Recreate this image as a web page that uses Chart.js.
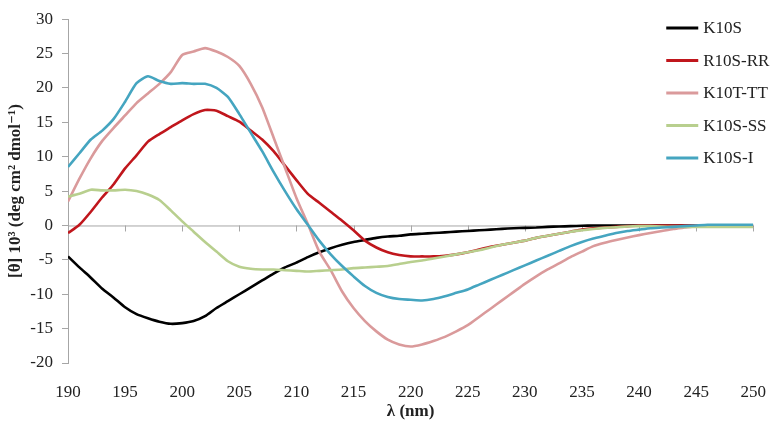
<!DOCTYPE html>
<html lang="en">
<head>
    <meta charset="UTF-8">
    <title>CD spectra</title>
    <script src="https://cdn.jsdelivr.net/npm/chart.js"></script>
    <style>
        html, body { margin: 0; padding: 0; background: #fff; }
        #wrap { width: 777px; height: 426px; }
    </style>
</head>
<body>
    <div id="wrap"><canvas id="cdChart"></canvas></div>

    <script>
        // wavelength (nm), one point per nm
        const wavelengths = [];
        for (let w = 190; w <= 250; w++) wavelengths.push(w);

        const seriesNames = ["K10S", "R10S-RR", "K10T-TT", "K10S-SS", "K10S-I"];
        const seriesColors = ["#000000", "#c0161c", "#da9a9b", "#b8cf8e", "#45a5c0"];

        const k10s = [-4.5, -6.1, -7.6, -9.2, -10.5, -11.9, -12.9, -13.5, -14.0, -14.3,
            -14.2, -13.9, -13.2, -12.0, -11.0, -10.0, -9.0, -8.0, -7.0, -6.1,
            -5.4, -4.6, -3.9, -3.3, -2.8, -2.4, -2.1, -1.8, -1.6, -1.5,
            -1.3, -1.2, -1.1, -1.0, -0.9, -0.8, -0.7, -0.6, -0.5, -0.4,
            -0.35, -0.3, -0.2, -0.15, -0.1, -0.05, 0, 0, 0, 0,
            0, 0, 0, 0, 0, 0, 0, 0, 0, 0, 0];
        const r10sRR = [-1.1, 0.1, 2.0, 4.1, 6.0, 8.3, 10.2, 12.2, 13.3, 14.3,
            15.3, 16.2, 16.8, 16.7, 15.9, 15.1, 13.8, 12.5, 10.8, 8.7,
            6.6, 4.6, 3.3, 2.0, 0.7, -0.7, -2.2, -3.2, -3.9, -4.3,
            -4.5, -4.5, -4.5, -4.4, -4.2, -3.9, -3.5, -3.1, -2.8, -2.5,
            -2.2, -1.8, -1.5, -1.2, -0.9, -0.6, -0.4, -0.3, -0.2, -0.1,
            0, 0, 0, 0, 0, 0, 0, 0, 0, 0, 0];
        const k10tTT = [3.5, 6.8, 9.8, 12.3, 14.2, 16.0, 17.8, 19.2, 20.6, 22.3,
            24.8, 25.3, 25.8, 25.3, 24.5, 23.2, 20.6, 17.2, 12.8, 8.4,
            4.0, 0.2, -3.8, -6.5, -9.6, -12.0, -13.9, -15.4, -16.6, -17.3,
            -17.6, -17.3, -16.8, -16.2, -15.4, -14.5, -13.3, -12.1, -10.9, -9.7,
            -8.5, -7.4, -6.4, -5.5, -4.6, -3.8, -3.0, -2.5, -2.1, -1.75,
            -1.4, -1.1, -0.8, -0.5, -0.3, -0.1, 0, 0, 0, 0, 0];
        const k10sSS = [4.2, 4.6, 5.2, 5.1, 5.1, 5.2, 5.0, 4.5, 3.7, 2.2,
            0.6, -0.9, -2.4, -3.8, -5.2, -6.0, -6.3, -6.4, -6.4, -6.5,
            -6.6, -6.7, -6.6, -6.5, -6.4, -6.2, -6.1, -6.0, -5.9, -5.6,
            -5.3, -5.1, -4.8, -4.5, -4.2, -3.9, -3.6, -3.2, -2.8, -2.5,
            -2.2, -1.8, -1.5, -1.2, -0.9, -0.7, -0.5, -0.35, -0.25, -0.15,
            -0.1, -0.1, -0.15, -0.2, -0.2, -0.2, -0.2, -0.2, -0.2, -0.2, -0.2];
        const k10sI = [8.5, 10.5, 12.5, 13.8, 15.5, 18.0, 20.7, 21.7, 21.0, 20.6,
            20.7, 20.6, 20.6, 20.0, 18.7, 16.2, 13.5, 10.8, 7.8, 5.0,
            2.4, 0.1, -2.2, -4.2, -5.9, -7.4, -8.8, -9.8, -10.4, -10.7,
            -10.8, -10.9, -10.7, -10.3, -9.8, -9.3, -8.6, -7.9, -7.2, -6.5,
            -5.8, -5.1, -4.4, -3.7, -3.0, -2.4, -1.9, -1.5, -1.1, -0.8,
            -0.6, -0.4, -0.3, -0.2, -0.1, 0.0, 0.1, 0.1, 0.1, 0.1, 0.1];

        const allSeries = [k10s, r10sRR, k10tTT, k10sSS, k10sI];

        const serif = "'Liberation Serif', 'DejaVu Serif', serif";
        const axisGray = "#a6a6a6";

        // zero line with its tick marks, like the crossing axis in the original
        const zeroAxis = {
            id: "zeroAxis",
            beforeDatasetsDraw(chart) {
                const { ctx, chartArea, scales } = chart;
                const y0 = scales.y.getPixelForValue(0);
                ctx.save();
                ctx.strokeStyle = axisGray;
                ctx.lineWidth = 1;
                ctx.beginPath();
                ctx.moveTo(chartArea.left, y0 + 0.5);
                ctx.lineTo(chartArea.right, y0 + 0.5);
                scales.x.ticks.forEach(t => {
                    const x = Math.round(scales.x.getPixelForValue(t.value)) + 0.5;
                    ctx.moveTo(x, y0);
                    ctx.lineTo(x, y0 + 6);
                });
                ctx.stroke();
                ctx.restore();
            }
        };

        // legend drawn over the top right of the plot
        const sideLegend = {
            id: "sideLegend",
            afterDraw(chart) {
                const { ctx, chartArea } = chart;
                const x0 = chartArea.right - 87;
                ctx.save();
                ctx.font = "17px " + serif;
                ctx.textBaseline = "middle";
                chart.data.datasets.forEach((ds, i) => {
                    const y = 28 + i * 32.5;
                    ctx.strokeStyle = ds.borderColor;
                    ctx.lineWidth = 3;
                    ctx.beginPath();
                    ctx.moveTo(x0, y);
                    ctx.lineTo(x0 + 32, y);
                    ctx.stroke();
                    ctx.fillStyle = "#222";
                    ctx.fillText(ds.label, x0 + 37, y + 1);
                });
                ctx.restore();
            }
        };

        const ctx = document.getElementById("cdChart").getContext("2d");

        new Chart(ctx, {
            type: "line",
            data: {
                datasets: allSeries.map((vals, i) => ({
                    label: seriesNames[i],
                    data: vals.map((v, j) => ({ x: wavelengths[j], y: v })),
                    borderColor: seriesColors[i],
                    borderWidth: 2.6,
                    pointRadius: 0,
                    tension: 0.2,
                    fill: false,
                    order: allSeries.length - i   // later series drawn on top
                }))
            },
            options: {
                responsive: true,
                maintainAspectRatio: false,
                animation: false,
                layout: { padding: { left: 0, right: 20, top: 12, bottom: 0 } },
                plugins: {
                    legend: { display: false },
                    tooltip: { enabled: false }
                },
                scales: {
                    x: {
                        type: "linear",
                        min: 190,
                        max: 250,
                        afterFit: s => { s.height = 63; },
                        grid: { display: false },
                        border: { display: false },
                        ticks: {
                            stepSize: 5,
                            padding: 11,
                            color: "#222",
                            font: { family: serif, size: 17 }
                        },
                        title: {
                            display: true,
                            text: "λ (nm)",
                            color: "#222",
                            font: { family: serif, size: 17, weight: "bold" },
                            padding: { top: 0, bottom: 4 }
                        }
                    },
                    y: {
                        min: -20,
                        max: 30,
                        afterFit: s => { s.width = 68; },
                        grid: {
                            drawOnChartArea: false,
                            color: axisGray,
                            tickLength: 6
                        },
                        border: { display: true, color: axisGray },
                        ticks: {
                            stepSize: 5,
                            padding: 9,
                            color: "#222",
                            font: { family: serif, size: 17 }
                        },
                        title: {
                            display: true,
                            text: "[θ] 10³ (deg cm² dmol⁻¹)",
                            color: "#222",
                            font: { family: serif, size: 17, weight: "bold" },
                            padding: { top: 5, bottom: 0 }
                        }
                    }
                }
            },
            plugins: [zeroAxis, sideLegend]
        });
    </script>
</body>
</html>
